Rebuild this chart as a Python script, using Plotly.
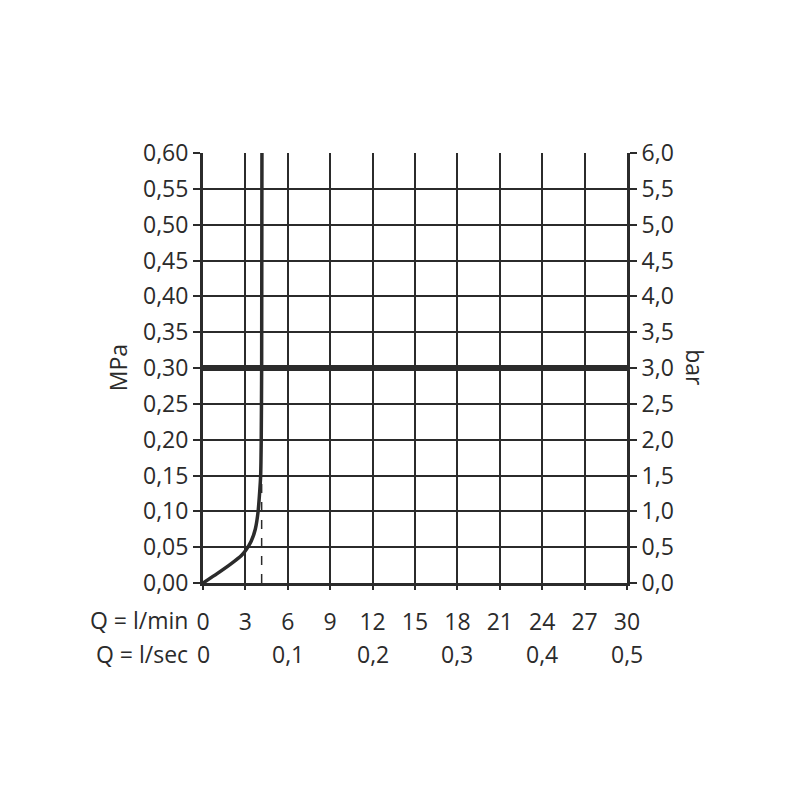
import plotly.graph_objects as go

# Data
flow_lmin = [0, 1.0, 2.0, 2.7, 3.0, 3.4, 3.7, 3.9, 4.02, 4.08, 4.12, 4.15, 4.17]
pressure_mpa = [0, 0.013, 0.027, 0.038, 0.045, 0.058, 0.075, 0.10, 0.13, 0.15, 0.20, 0.30, 0.60]
dash_x = [4.15, 4.15]
dash_y = [0.0, 0.15]
ref_pressure = 0.30
x_ticks = [0, 3, 6, 9, 12, 15, 18, 21, 24, 27, 30]
y_ticks = [0.00, 0.05, 0.10, 0.15, 0.20, 0.25, 0.30, 0.35, 0.40, 0.45, 0.50, 0.55, 0.60]
y_ticklabels = ["0,00", "0,05", "0,10", "0,15", "0,20", "0,25", "0,30", "0,35", "0,40", "0,45", "0,50", "0,55", "0,60"]
bar_ticks = [0, 0.5, 1, 1.5, 2, 2.5, 3, 3.5, 4, 4.5, 5, 5.5, 6]
bar_ticklabels = ["0,0", "0,5", "1,0", "1,5", "2,0", "2,5", "3,0", "3,5", "4,0", "4,5", "5,0", "5,5", "6,0"]
lsec_pos = [0, 6, 12, 18, 24, 30]
lsec_labels = ["0", "0,1", "0,2", "0,3", "0,4", "0,5"]

ink = "#2b2b2b"
font = dict(family="Open Sans, DejaVu Sans, sans-serif", size=23, color=ink)

fig = go.Figure()
fig.add_trace(go.Scatter(x=[0, 30], y=[ref_pressure, ref_pressure], mode="lines",
                         line=dict(color=ink, width=6), hoverinfo="skip", showlegend=False))
fig.add_trace(go.Scatter(x=dash_x, y=dash_y, mode="lines",
                         line=dict(color=ink, width=1.5, dash="dash"), showlegend=False))
fig.add_trace(go.Scatter(x=flow_lmin, y=pressure_mpa, mode="lines",
                         line=dict(color=ink, width=3.5, shape="spline", smoothing=0.6),
                         showlegend=False))
fig.add_trace(go.Scatter(x=[0], y=[0], yaxis="y2", mode="markers",
                         marker=dict(opacity=0), showlegend=False, hoverinfo="skip"))

annotations = []
annotations.append(dict(text="Q = l/min", x=-0.03, y=-0.086, xref="paper", yref="paper",
                        xanchor="right", yanchor="middle", showarrow=False, font=font))
annotations.append(dict(text="Q = l/sec", x=-0.03, y=-0.165, xref="paper", yref="paper",
                        xanchor="right", yanchor="middle", showarrow=False, font=font))
for p, t in zip(lsec_pos, lsec_labels):
    annotations.append(dict(text=t, x=p, y=-0.165, xref="x", yref="paper",
                            xanchor="center", yanchor="middle", showarrow=False, font=font))
annotations.append(dict(text="MPa", x=-0.20, y=0.5, xref="paper", yref="paper", textangle=-90,
                        xanchor="center", yanchor="middle", showarrow=False, font=font))
annotations.append(dict(text="bar", x=1.16, y=0.5, xref="paper", yref="paper", textangle=90,
                        xanchor="center", yanchor="middle", showarrow=False, font=font))

fig.update_layout(
    width=800, height=800,
    margin=dict(l=195, r=181, t=145, b=225),
    paper_bgcolor="white", plot_bgcolor="white",
    font=font,
    xaxis=dict(range=[0, 30], tickvals=x_ticks, ticktext=[str(v) for v in x_ticks],
               showgrid=True, gridcolor=ink, gridwidth=2, zeroline=False,
               showline=True, linecolor=ink, linewidth=3,
               ticks="outside", ticklen=4, tickwidth=2, tickcolor=ink,
               ticklabelstandoff=12, tickfont=font),
    yaxis=dict(range=[0, 0.6], tickvals=y_ticks, ticktext=y_ticklabels,
               showgrid=True, gridcolor=ink, gridwidth=2, zeroline=False,
               showline=True, linecolor=ink, linewidth=3,
               ticks="outside", ticklen=7, tickwidth=2, tickcolor=ink, tickfont=font),
    yaxis2=dict(range=[0, 6], tickvals=bar_ticks, ticktext=bar_ticklabels,
                overlaying="y", side="right", showgrid=False, zeroline=False,
                showline=True, linecolor=ink, linewidth=3,
                ticks="outside", ticklen=7, tickwidth=2, tickcolor=ink, tickfont=font),
    annotations=annotations,
)

fig.write_html("out.html")
